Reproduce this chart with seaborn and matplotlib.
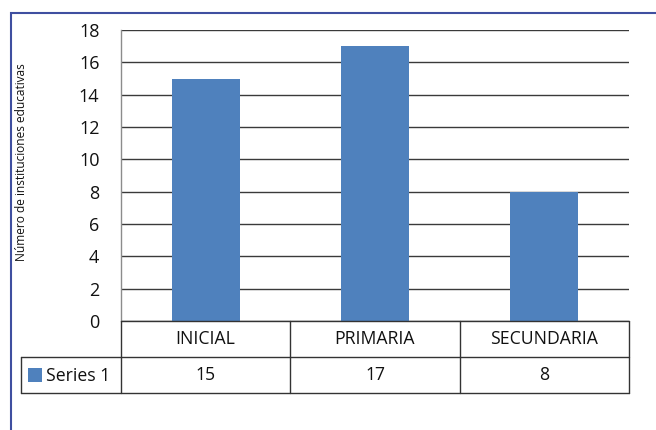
import matplotlib
matplotlib.use("Agg")
import matplotlib.pyplot as plt
import matplotlib.transforms as mtransforms
from matplotlib.patches import Rectangle
from matplotlib.lines import Line2D
import seaborn as sns
import pandas as pd

# Data
categories = ["INICIAL", "PRIMARIA", "SECUNDARIA"]
values = [15, 17, 8]
series_name = "Series 1"
y_label = "Número de instituciones educativas"
y_ticks = [0, 2, 4, 6, 8, 10, 12, 14, 16, 18]

sns.set_theme(style="white")
plt.rcParams["font.family"] = ["Open Sans", "DejaVu Sans"]

W, H = 656, 430
fig = plt.figure(figsize=(W / 100, H / 100), dpi=100)
fig.patch.set_facecolor("white")

def fx(x):
    return x / W

def fy(y):
    return 1 - y / H

# Outer frame (runs past the right and bottom edges)
fig.add_artist(Rectangle((fx(10.5), fy(H + 20)), fx(W + 40), fy(13.5) - fy(H + 20),
                         transform=fig.transFigure, fill=False,
                         edgecolor="#3f4fa0", lw=1.5))

left, right, top, bottom = 121, 629, 30, 321
ax = fig.add_axes([fx(left), fy(bottom), fx(right - left), fy(top) - fy(bottom)])

df = pd.DataFrame({"categoria": categories, "valor": values})
bar_color = "#4F81BD"
sns.barplot(data=df, x="categoria", y="valor", color=bar_color, saturation=1,
            width=0.4, linewidth=0, edgecolor="none", ax=ax, zorder=3)

ax.set_xlim(-0.5, len(categories) - 0.5)
ax.set_ylim(0, 18)
ax.set_yticks(y_ticks)
ax.set_yticklabels([str(t) for t in y_ticks], fontsize=13, color="#111111")
ax.set_xticks([])
ax.set_xlabel("")
ax.set_ylabel("")
ax.tick_params(axis="y", length=0, pad=15.5)
ax.yaxis.grid(True, color="#3a3a3a", lw=1.0, zorder=0)
ax.set_axisbelow(True)
for s in ["top", "right", "bottom"]:
    ax.spines[s].set_visible(False)
ax.spines["left"].set_color("#8c8c8c")
ax.spines["left"].set_linewidth(1.0)

fig.text(fx(22), fy(162), y_label, rotation=90, ha="center", va="center",
         fontsize=8.6, color="#111111")

# Data table below the plot
axes_h = bottom - top
axes_w = right - left
r1 = 36 / axes_h
r2 = 72 / axes_h
leg_left = (21 - left) / axes_w
line_kw = dict(color="#333333", lw=1.0, clip_on=False, zorder=5)

blend = mtransforms.blended_transform_factory(ax.transData, ax.transAxes)
n = len(categories)
# horizontal rules
ax.add_line(Line2D([0, 1], [0, 0], transform=ax.transAxes, **line_kw))
ax.add_line(Line2D([leg_left, 1], [-r1, -r1], transform=ax.transAxes, **line_kw))
ax.add_line(Line2D([leg_left, 1], [-r2, -r2], transform=ax.transAxes, **line_kw))
ax.add_line(Line2D([leg_left, leg_left], [-r1, -r2], transform=ax.transAxes, **line_kw))
# column separators
for i in range(n + 1):
    ax.add_line(Line2D([i - 0.5, i - 0.5], [0, -r2], transform=blend, **line_kw))

for i, (c, v) in enumerate(zip(categories, values)):
    ax.text(i, -r1 / 2, c, transform=blend, ha="center", va="center",
            fontsize=12.7, color="#111111", clip_on=False)
    ax.text(i, -r1 - r1 / 2, str(v), transform=blend, ha="center", va="center",
            fontsize=12.7, color="#111111", clip_on=False)

# legend key in the series cell
fig.add_artist(Rectangle((fx(28), fy(381.5)), fx(13.5), fy(368) - fy(381.5),
                         transform=fig.transFigure, facecolor=bar_color,
                         edgecolor="none"))
fig.text(fx(46), fy(376), series_name, ha="left", va="center",
         fontsize=12.7, color="#111111")

fig.savefig("out.png", dpi=100)
